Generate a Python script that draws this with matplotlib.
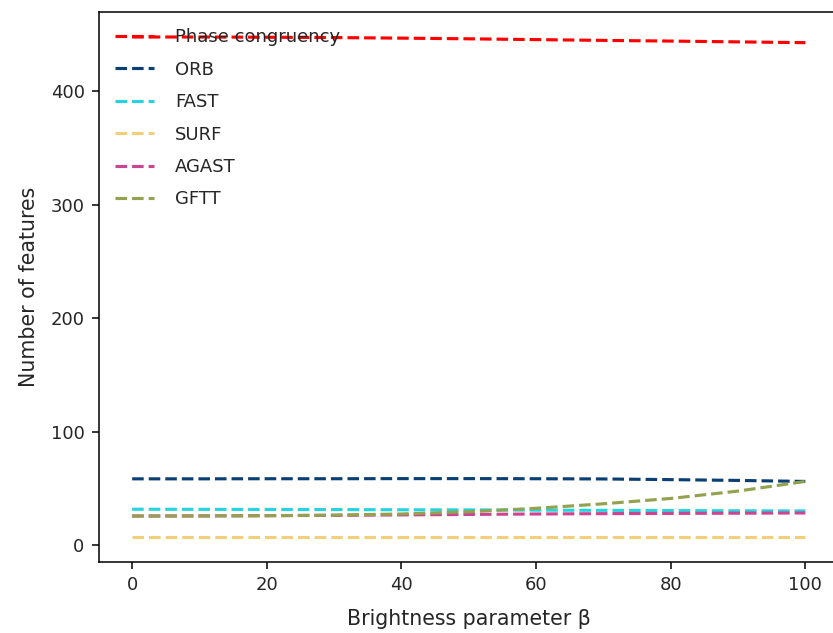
import matplotlib
matplotlib.use("Agg")
import matplotlib.pyplot as plt

# brightness parameter beta (samples every 10)
beta = [0, 10, 20, 30, 40, 50, 60, 70, 80, 90, 100]

phase_congruency = [448.0, 448.0, 447.8, 447.5, 447.0, 446.4, 445.7, 445.0, 444.4, 443.7, 443.0]
orb = [58.3, 58.3, 58.4, 58.4, 58.5, 58.5, 58.4, 58.2, 57.6, 56.9, 56.0]
fast = [31.5, 31.4, 31.3, 31.2, 31.0, 30.9, 30.7, 30.5, 30.3, 30.1, 30.0]
surf = [7.0, 7.0, 7.0, 7.0, 7.0, 7.0, 7.0, 7.0, 7.0, 7.0, 7.0]
agast = [25.5, 25.6, 25.8, 26.1, 26.5, 26.9, 27.3, 27.6, 27.8, 28.0, 28.2]
gftt = [25.5, 25.6, 25.8, 26.3, 27.3, 29.3, 32.3, 36.3, 41.0, 47.5, 56.0]

series = [
    ("Phase congruency", phase_congruency, "#ff0000"),
    ("ORB", orb, "#0b3f73"),
    ("FAST", fast, "#27d3dc"),
    ("SURF", surf, "#f2d07a"),
    ("AGAST", agast, "#cc4591"),
    ("GFTT", gftt, "#93a24f"),
]

plt.rcParams.update({"xtick.labelsize": 13, "ytick.labelsize": 13,
                     "text.color": "#262626", "axes.labelcolor": "#262626",
                     "xtick.labelcolor": "#262626", "ytick.labelcolor": "#262626"})

fig = plt.figure(figsize=(8.33, 6.33), dpi=100)
ax = fig.add_axes([98.5 / 833, 71 / 633, 740.5 / 833, 550 / 633])

for name, vals, col in series:
    ax.plot(beta, vals, linestyle="--", color=col, linewidth=2.25, label=name)

ax.set_xlim(-5, 105)
ax.set_xlabel("Brightness parameter β", fontsize=14.8, labelpad=11)
ax.set_ylabel("Number of features", fontsize=14.8, labelpad=8)
ax.tick_params(length=5, width=1.1, pad=5)
for s in ax.spines.values():
    s.set_linewidth(1.1)

ax.legend(loc="upper left", frameon=False, fontsize=13, handlelength=2.2,
          labelspacing=0.8, handletextpad=1.13)

fig.savefig("out.png", dpi=100)
